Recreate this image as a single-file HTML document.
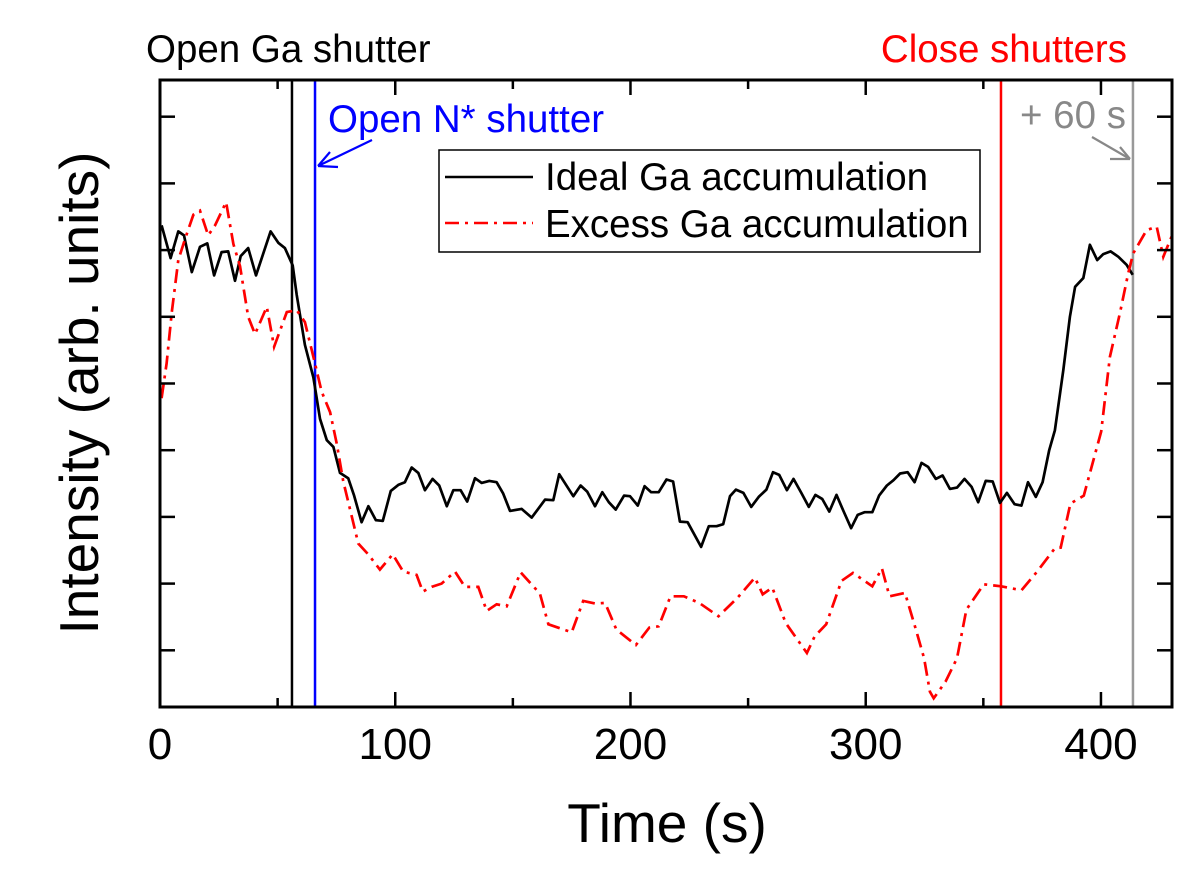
<!DOCTYPE html>
<html><head><meta charset="utf-8"><style>
html,body{margin:0;padding:0;background:#fff;}
svg{display:block;font-family:"Liberation Sans",Arial,sans-serif;}
</style></head><body>
<svg id="chart" width="1200" height="877" viewBox="0 0 1200 877">
<text x="146" y="62" font-size="38.5" fill="#000">Open Ga shutter</text>
<text x="1127" y="62" font-size="38.5" fill="#ff0000" text-anchor="end">Close shutters</text>
<text x="328" y="132" font-size="38.5" fill="#0000ff">Open N* shutter</text>
<text x="1020" y="128" font-size="38.5" fill="#888">+ 60 s</text>
<g id="plot"></g>
<text x="667" y="842" font-size="55" text-anchor="middle">Time (s)</text>
<text transform="translate(98,393) rotate(-90)" font-size="55" text-anchor="middle">Intensity (arb. units)</text>
</svg>
<script>
const idealT=[0.7,4.5,7.8,10.2,13.5,17.0,20.1,23.0,26.2,29.0,31.9,34.3,37.5,40.8,47.0,50.3,53.1,56.4,58.1,61.6,65.2,68.0,70.9,73.7,76.5,80.0,82.5,85.7,88.6,91.8,94.7,98.1,101.3,104.1,107.0,109.8,112.6,115.9,118.7,121.9,124.7,127.8,130.6,133.9,136.7,140.0,143.1,145.9,148.8,153.7,158.0,163.7,167.2,169.7,175.7,178.8,181.6,184.9,188.0,190.8,193.7,197.3,199.8,203.1,206.0,208.8,212.0,215.3,218.1,221.0,224.3,230.0,233.3,236.6,239.4,242.3,244.8,248.0,251.3,254.5,257.8,260.6,263.2,266.5,269.3,272.6,275.8,278.6,281.5,284.5,287.6,290.5,293.8,296.6,299.5,302.8,305.7,309.0,311.8,314.6,317.8,320.8,323.7,326.5,329.8,332.7,335.8,338.8,342.0,345.0,347.8,351.0,354.0,357.1,360.0,363.3,366.2,369.0,372.3,375.2,378.0,380.4,384.0,386.8,389.0,392.5,395.3,398.4,401.0,404.1,407.4,410.9,413.5];
const idealV=[7.37,6.88,7.28,7.22,6.67,7.05,7.10,6.62,6.97,6.98,6.54,6.91,7.03,6.62,7.28,7.11,7.03,6.77,6.33,5.58,5.09,4.47,4.15,4.05,3.66,3.58,3.32,2.92,3.16,2.95,2.94,3.39,3.48,3.52,3.74,3.66,3.40,3.57,3.47,3.16,3.40,3.40,3.23,3.58,3.51,3.54,3.52,3.35,3.09,3.12,2.99,3.26,3.25,3.64,3.31,3.47,3.38,3.16,3.37,3.22,3.11,3.32,3.31,3.17,3.46,3.37,3.37,3.56,3.53,2.93,2.92,2.55,2.86,2.86,2.89,3.31,3.41,3.36,3.15,3.30,3.41,3.67,3.63,3.40,3.57,3.36,3.15,3.33,3.27,3.08,3.33,3.09,2.83,3.03,3.07,3.07,3.32,3.47,3.55,3.65,3.67,3.52,3.81,3.75,3.57,3.62,3.42,3.44,3.57,3.45,3.22,3.54,3.53,3.21,3.36,3.19,3.17,3.52,3.30,3.52,4.00,4.30,5.20,6.00,6.45,6.58,7.08,6.85,6.94,6.98,6.90,6.78,6.63];
const excessT=[0.7,2.8,5.0,7.8,10.6,14.2,17.0,20.5,23.4,28.1,31.2,34.0,37.5,40.4,45.4,48.5,53.9,58.1,61.6,65.9,68.7,72.3,75.1,77.9,81.5,84.3,88.5,93.5,98.9,103.4,109.1,111.7,115.5,119.7,125.4,129.6,135.3,138.9,143.1,147.4,153.3,161.5,165.1,175.0,179.9,185.1,189.2,194.0,202.3,208.0,212.0,217.0,222.7,229.2,237.4,245.6,252.9,256.2,260.3,266.0,275.0,278.3,283.2,289.7,294.6,302.8,306.9,310.1,316.7,321.6,324.8,327.3,328.9,333.9,338.8,342.8,350.2,357.6,366.2,373.1,380.4,382.9,387.0,392.7,400.1,403.8,408.1,411.6,413.7,419.4,423.7,426.5,430.0];
const excessV=[4.78,5.30,6.07,6.85,7.16,7.53,7.59,7.22,7.37,7.72,7.09,6.76,6.00,5.74,6.15,5.55,6.07,6.10,5.92,5.30,4.88,4.57,4.10,3.53,3.01,2.60,2.44,2.21,2.44,2.18,2.13,1.88,1.95,2.00,2.18,1.95,1.95,1.59,1.69,1.66,2.17,1.85,1.39,1.27,1.74,1.70,1.71,1.31,1.08,1.34,1.36,1.81,1.81,1.71,1.51,1.79,2.09,1.84,1.94,1.41,0.96,1.21,1.39,2.04,2.16,1.96,2.23,1.81,1.86,1.28,0.88,0.38,0.28,0.53,0.88,1.61,1.99,1.96,1.90,2.19,2.53,2.54,3.20,3.32,4.28,5.40,6.06,6.65,6.95,7.30,7.35,6.90,7.20];
const eventT=[56.1,65.9,357.5,413.6];
const eventColors=["#000","#0000ff","#ff0000","#999"];
const eventNames=["open-ga-line","open-n-line","close-shutters-line","plus-60s-line"];
const xTickLabels=[0,100,200,300,400];

const L=160,R=1172,T=80,B=707;
const X0=0,X1=430.2,Y0=0.15,Y1=9.55;
const sx=t=>L+(t-X0)/(X1-X0)*(R-L);
const sy=v=>B-(v-Y0)/(Y1-Y0)*(B-T);
const NS="http://www.w3.org/2000/svg";
const g=document.getElementById('plot');
function mk(tag,attrs){const e=document.createElementNS(NS,tag);for(const k in attrs)e.setAttribute(k,attrs[k]);g.appendChild(e);return e;}

const defs=mk('defs',{});
const cp=document.createElementNS(NS,'clipPath');cp.setAttribute('id','clip');
const cr=document.createElementNS(NS,'rect');cr.setAttribute('x',L);cr.setAttribute('y',T);cr.setAttribute('width',R-L);cr.setAttribute('height',B-T);
cp.appendChild(cr);defs.appendChild(cp);

eventT.forEach((t,i)=>{
  const ln=mk('line',{x1:sx(t),x2:sx(t),y1:T,y2:B,stroke:eventColors[i],'stroke-width':2.5});
  
  
});

const pts=(ts,vs)=>ts.map((t,i)=>sx(t).toFixed(1)+','+sy(vs[i]).toFixed(1)).join(' ');
const l1=mk('polyline',{points:pts(idealT,idealV),fill:'none',stroke:'#000','stroke-width':2.7,'stroke-linejoin':'round','clip-path':'url(#clip)'});


const l2=mk('polyline',{points:pts(excessT,excessV),fill:'none',stroke:'#ff0000','stroke-width':2.7,'stroke-dasharray':'14,6,3,6','clip-path':'url(#clip)'});



for(let t=0;t<=430;t+=50){
  const major=t%100===0, len=major?15:9;
  const a=mk('line',{x1:sx(t),x2:sx(t),y1:B,y2:B-len,stroke:'#000','stroke-width':2.5});
  
  
  const b=mk('line',{x1:sx(t),x2:sx(t),y1:T,y2:T+len,stroke:'#000','stroke-width':2.5});
  
  
}
xTickLabels.forEach(v=>{
  const tx=mk('text',{x:sx(v),y:759,'font-size':44,'text-anchor':'middle'});
  tx.textContent=v;
  
  
});
for(let v=1;v<=9;v++){
  const a=mk('line',{x1:L,x2:L+15,y1:sy(v),y2:sy(v),stroke:'#000','stroke-width':2.5});
  
  
  const b=mk('line',{x1:R,x2:R-15,y1:sy(v),y2:sy(v),stroke:'#000','stroke-width':2.5});
  
  
}
const fr=mk('rect',{x:L,y:T,width:R-L,height:B-T,fill:'none',stroke:'#000','stroke-width':3});



const a1=mk('path',{d:'M372,140 L318,166 M318,166 L338,167 M318,166 L330,152',stroke:'#0000ff','stroke-width':2.2,fill:'none'});


const a2=mk('path',{d:'M1092,137 L1130,159 M1130,159 L1110,159 M1130,159 L1120,147',stroke:'#888','stroke-width':2.2,fill:'none'});



const lg=mk('rect',{x:439,y:150,width:541,height:102,fill:'#fff',stroke:'#000','stroke-width':1.5});


const e1=mk('line',{x1:445,x2:533,y1:177,y2:177,stroke:'#000','stroke-width':2.5});


const e2=mk('line',{x1:445,x2:533,y1:223,y2:223,stroke:'#ff0000','stroke-width':2.5,'stroke-dasharray':'14,6,3,6'});


const t1=mk('text',{x:545,y:190,'font-size':38.5});t1.textContent='Ideal Ga accumulation';


const t2=mk('text',{x:545,y:237,'font-size':38.5});t2.textContent='Excess Ga accumulation';


</script>
</body></html>
